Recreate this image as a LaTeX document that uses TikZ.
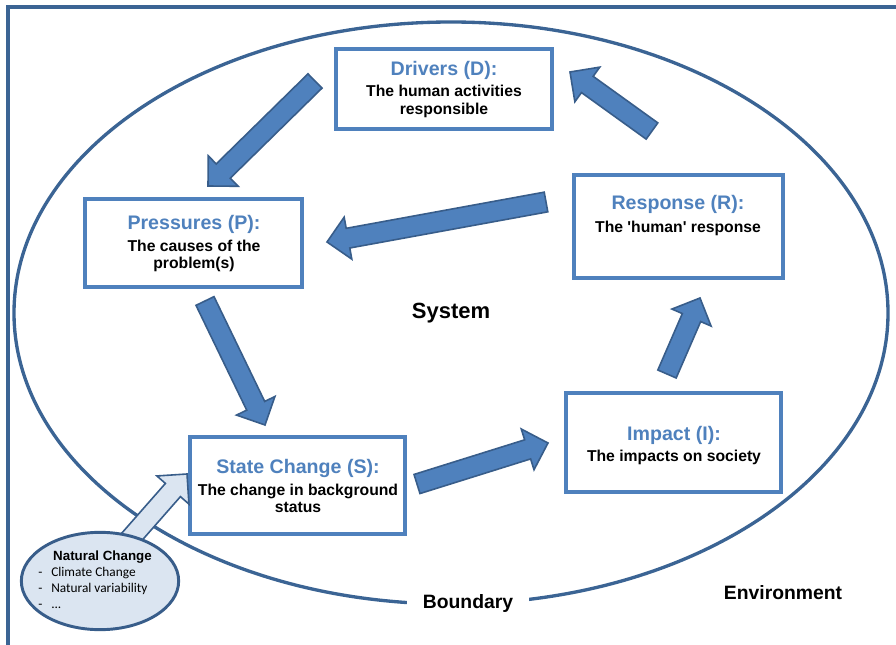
\documentclass[tikz,border=0pt]{standalone}
\usepackage{fontspec}
\setmainfont{Liberation Sans}
\newfontfamily\calfont{Carlito}
\usetikzlibrary{calc,shapes.geometric}
\definecolor{boxblue}{HTML}{4F81BD}
\definecolor{lineblue}{HTML}{3B6494}
\definecolor{arrowedge}{HTML}{385D8A}
\definecolor{lightfill}{HTML}{DBE5F1}
\newcommand\blockarrow[3]{%
  \coordinate (ba-n) at ($(#3)!16pt!(#2)$);
  \draw[#1] ($(#2)!7.5pt!90:(#3)$) -- ($(ba-n)!7.5pt!-90:(#2)$) -- ($(ba-n)!16pt!-90:(#2)$) -- (#3)
    -- ($(ba-n)!16pt!90:(#2)$) -- ($(ba-n)!7.5pt!90:(#2)$) -- ($(#2)!7.5pt!-90:(#3)$) -- cycle;
}
\tikzset{
  dpsbox/.style={draw=boxblue, line width=2.3pt, fill=white, inner sep=0pt},
  heading/.style={text=boxblue, font=\bfseries\fontsize{14.7}{16}\selectfont, anchor=base, inner sep=0pt},
  subtext/.style={text=black, font=\bfseries\fontsize{11.8}{13}\selectfont, align=center, anchor=north, inner sep=0pt},
  bigarrow/.style={fill=boxblue, draw=arrowedge, line width=1.2pt, line join=miter},
  lightarrow/.style={fill=lightfill, draw=arrowedge, line width=1.2pt, line join=miter},
  plainlabel/.style={font=\bfseries\fontsize{14.5}{16}\selectfont, inner sep=0pt},
}
\begin{document}
\begin{tikzpicture}[x=0.75pt, y=-0.75pt]
\useasboundingbox (0,0) rectangle (896,645);
% frame
\draw[lineblue, line width=2.4pt] (8,645) -- (8,7) -- (896,7);
% system boundary
\draw[lineblue, line width=2.5pt] (451,313) ellipse [x radius=437, y radius=291];
\node[plainlabel, fill=white, inner xsep=12pt, inner ysep=3pt] (boundary) at (468,603) {Boundary};
\node[plainlabel] (environment) at (783,593) {Environment};
\node[plainlabel, font=\bfseries\fontsize{16.5}{18}\selectfont] (system) at (451,313) {System};

% boxes
\node[dpsbox, minimum width=162pt, minimum height=60pt] (D) at (444,89) {};
\node[dpsbox, minimum width=162.75pt, minimum height=66pt] (P) at (193.5,243) {};
\node[dpsbox, minimum width=161.25pt, minimum height=72.75pt] (S) at (297.5,485.5) {};
\node[dpsbox, minimum width=156.75pt, minimum height=77.25pt] (R) at (678.5,226.5) {};
\node[dpsbox, minimum width=161.25pt, minimum height=74.25pt] (I) at (673.5,442.5) {};

\node[heading] (Dh) at (444,75.7) {Drivers (D):};
\node[subtext] (Ds) at (444,85.2) {The human activities\\responsible};
\node[heading] (Ph) at (194,230) {Pressures (P):};
\node[subtext] (Ps) at (194,239.5) {The causes of the\\problem(s)};
\node[heading] (Sh) at (298,473.3) {State Change (S):};
\node[subtext] (Ss) at (298,483.5) {The change in background\\status};
\node[heading] (Rh) at (678,210) {Response (R):};
\node[subtext] (Rs) at (678,220.8) {The \textquotesingle human\textquotesingle\ response};
\node[heading] (Ih) at (674,440) {Impact (I):};
\node[subtext] (Is) at (674,449.5) {The impacts on society};

% arrows
\coordinate (a1t) at (315,81);  \coordinate (a1h) at (208,186);
\coordinate (a2t) at (546,202); \coordinate (a2h) at (327,242);
\coordinate (a3t) at (205,301); \coordinate (a3h) at (265,425);
\coordinate (a4t) at (417,484); \coordinate (a4h) at (548,443);
\coordinate (a5t) at (667,374); \coordinate (a5h) at (700,298);
\coordinate (a6t) at (652,131); \coordinate (a6h) at (570,72);
\coordinate (a7t) at (122,548); \coordinate (a7h) at (187,474);
\blockarrow{bigarrow}{a1t}{a1h}
\blockarrow{bigarrow}{a2t}{a2h}
\blockarrow{bigarrow}{a3t}{a3h}
\blockarrow{bigarrow}{a4t}{a4h}
\blockarrow{bigarrow}{a5t}{a5h}
\blockarrow{bigarrow}{a6t}{a6h}
\blockarrow{lightarrow}{a7t}{a7h}

% natural change
\node[ellipse, draw=arrowedge, fill=lightfill, line width=2.2pt, minimum width=118pt, minimum height=73pt, inner sep=0pt] (N) at (100,581) {};
\node[font=\bfseries\fontsize{10}{12}\selectfont, anchor=base, inner sep=0pt] (Nh) at (102.5,560.7) {Natural Change};
\node[font=\calfont\fontsize{10}{12}\selectfont, anchor=base west, inner sep=0pt] (Nd1) at (38,576.7) {-};
\node[font=\calfont\fontsize{10}{12}\selectfont, anchor=base west, inner sep=0pt] (Nt1) at (51,576.7) {Climate Change};
\node[font=\calfont\fontsize{10}{12}\selectfont, anchor=base west, inner sep=0pt] (Nd2) at (38,592.3) {-};
\node[font=\calfont\fontsize{10}{12}\selectfont, anchor=base west, inner sep=0pt] (Nt2) at (51,592.3) {Natural variability};
\node[font=\calfont\fontsize{10}{12}\selectfont, anchor=base west, inner sep=0pt] (Nd3) at (38,608) {-};
\node[font=\calfont\fontsize{10}{12}\selectfont, anchor=base west, inner sep=0pt] (Nt3) at (51,608) {...};
\end{tikzpicture}
\end{document}
